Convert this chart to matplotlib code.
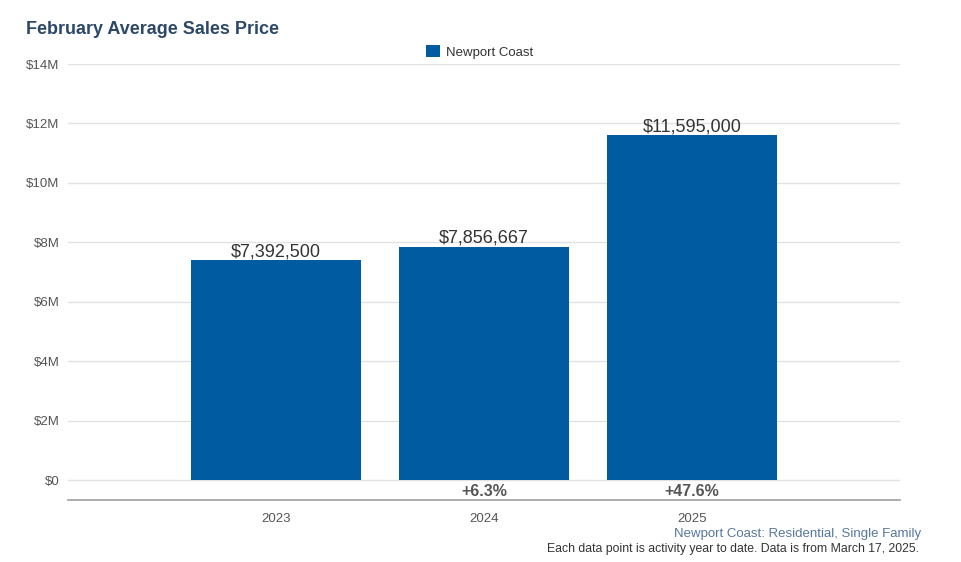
import numpy as np
import matplotlib.pyplot as plt

plt.rcParams['font.family'] = ['Liberation Sans', 'DejaVu Sans']

years = ['2023', '2024', '2025']
prices = [7392500, 7856667, 11595000]
series_name = 'Newport Coast'
y_ticks = [0, 2e6, 4e6, 6e6, 8e6, 10e6, 12e6, 14e6]
y_tick_labels = ['$0', '$2M', '$4M', '$6M', '$8M', '$10M', '$12M', '$14M']

bar_color = '#005ba1'

fig = plt.figure(figsize=(9.62, 5.62), dpi=100)
ax = fig.add_axes([68 / 962, 62 / 562, 832 / 962, 436 / 562])

x = np.arange(len(years))
ax.bar(x, prices, width=0.815, color=bar_color, label=series_name, zorder=3)

for xi, p in zip(x, prices):
    ax.annotate(f'${p:,.0f}', (xi, p), xytext=(0, 0), textcoords='offset points',
                ha='center', va='bottom', fontsize=13, color='#333333', zorder=4)

# year-over-year change below the baseline
for i in range(1, len(prices)):
    pct = (prices[i] / prices[i - 1] - 1) * 100
    ax.text(x[i], -0.4e6, f'{pct:+.1f}%', ha='center', va='center',
            fontsize=11.5, fontweight='bold', color='#555555')

ax.set_xlim(-1, 3)
ax.set_ylim(-0.673e6, 14e6)
ax.set_yticks(y_ticks)
ax.set_yticklabels(y_tick_labels)
ax.set_xticks(x)
ax.set_xticklabels(years)
ax.tick_params(axis='both', length=0, labelsize=9.5, colors='#555555')
ax.tick_params(axis='y', pad=6)
ax.tick_params(axis='x', pad=9)

for yv in y_ticks:
    ax.axhline(yv, color='#e2e2e2', linewidth=1, zorder=1)

for side in ['top', 'right', 'left']:
    ax.spines[side].set_visible(False)
ax.spines['bottom'].set_color('#a0a0a0')
ax.spines['bottom'].set_linewidth(1.2)

ax.legend(loc='lower center', bbox_to_anchor=(0.495, 1.0), frameon=False,
          handlelength=1.0, handleheight=1.0, handletextpad=0.5,
          fontsize=9.5, labelcolor='#333333', borderaxespad=0.0)

fig.text(26 / 962, 1 - 30 / 562, 'February Average Sales Price', fontsize=13,
         fontweight='bold', color='#2b4868', va='center', ha='left')
fig.text(921 / 962, 1 - 534 / 562, 'Newport Coast: Residential, Single Family',
         fontsize=9.5, color='#56779e', ha='right', va='center')
fig.text(919 / 962, 1 - 549 / 562, 'Each data point is activity year to date. Data is from March 17, 2025.',
         fontsize=8.8, color='#333333', ha='right', va='center')

fig.savefig('out.png', dpi=100)
